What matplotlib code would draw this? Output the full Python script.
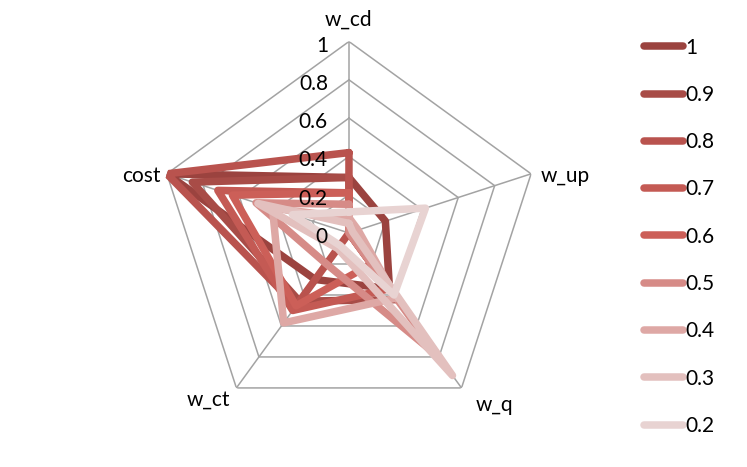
import numpy as np
import matplotlib.pyplot as plt

# axes of the radar, clockwise from the top
categories = ['w_cd', 'w_up', 'w_q', 'w_ct', 'cost']
series_names = ['1', '0.9', '0.8', '0.7', '0.6', '0.5', '0.4', '0.3', '0.2']

# values per series, same order as categories
s_10 = [0.29, 0.20, 0.36, 0.30, 1.00]
s_09 = [0.29, 0.00, 0.43, 0.44, 0.86]
s_08 = [0.42, 0.00, 0.00, 0.47, 1.00]
s_07 = [0.21, 0.00, 0.36, 0.50, 0.72]
s_06 = [0.21, 0.00, 0.20, 0.47, 0.64]
s_05 = [0.15, 0.00, 0.80, 0.20, 0.51]
s_04 = [0.08, 0.05, 0.42, 0.58, 0.42]
s_03 = [0.05, 0.02, 0.92, 0.10, 0.50]
s_02 = [0.11, 0.42, 0.40, 0.08, 0.31]
series_values = [s_10, s_09, s_08, s_07, s_06, s_05, s_04, s_03, s_02]

colors = ['#9B433F', '#A84C47', '#B9534E', '#C45A54', '#CC5F58',
          '#D68B87', '#DEA8A5', '#E3C0BE', '#E8D3D2']

ticks = [0, 0.2, 0.4, 0.6, 0.8, 1]

plt.rcParams['font.family'] = ['Lato', 'DejaVu Sans']
fs = 15

fig = plt.figure(figsize=(7.47, 4.67), dpi=100)
ax = fig.add_axes([0.2108, 0.091, 0.5127, 0.8201], projection='polar')
ax.set_theta_offset(np.pi / 2)
ax.set_theta_direction(-1)
ax.set_ylim(0, 1)
ax.grid(False)
ax.spines['polar'].set_visible(False)
ax.set_xticks([])
ax.set_yticks([])

n = len(categories)
angles = np.linspace(0, 2 * np.pi, n, endpoint=False)
closed = np.append(angles, angles[0])

# pentagon grid and spokes
grid_col = '#A3A3A3'
for r in ticks[1:]:
    ax.plot(closed, [r] * (n + 1), color=grid_col, lw=1.1, zorder=1)
for a in angles:
    ax.plot([a, a], [0, 1], color=grid_col, lw=1.1, zorder=1)

# data series
handles = []
for name, vals, col in zip(series_names, series_values, colors):
    v = np.append(vals, vals[0])
    h, = ax.plot(closed, v, color=col, lw=5.4, label=name,
                 solid_capstyle='round', solid_joinstyle='round', zorder=2)
    handles.append(h)

# value labels along the top spoke
for t in ticks:
    ax.annotate('%g' % t, xy=(0, t), xytext=(-21, -4),
                textcoords='offset pixels', ha='right', va='center',
                fontsize=fs, zorder=3)

# category labels
offsets = [(0, 22, 'center'), (10, -2, 'left'), (33, -17, 'center'),
           (-28, -12, 'center'), (-6, -2, 'right')]
for a, lab, (dx, dy, ha) in zip(angles, categories, offsets):
    ax.annotate(lab, xy=(a, 1), xytext=(dx, dy), textcoords='offset pixels',
                ha=ha, va='center', fontsize=fs)

fig.legend(handles=handles, loc='upper left', bbox_to_anchor=(0.848, 0.942),
           frameon=False, fontsize=fs, handlelength=1.9,
           handletextpad=0.1, labelspacing=1.31, borderpad=0)

fig.savefig('out.png', dpi=100)
